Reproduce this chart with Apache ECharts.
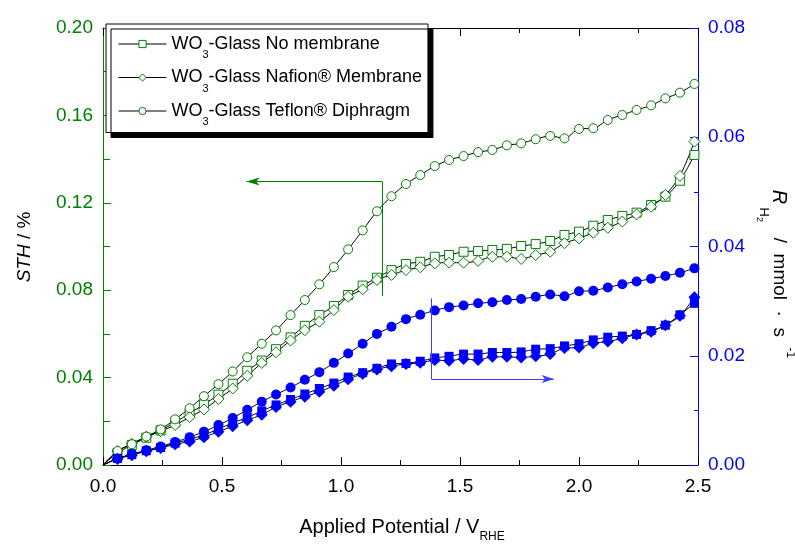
<!DOCTYPE html>
<html><head><meta charset="utf-8">
<script src="https://cdn.jsdelivr.net/npm/echarts@6/dist/echarts.min.js"></script>
<style>html,body{margin:0;padding:0;background:#fff}#c{width:795px;height:548px}</style>
</head><body><div id="c"></div>
<script>
// Applied potential / V_RHE
const potential = [0, 0.061, 0.121, 0.182, 0.242, 0.303, 0.364, 0.424, 0.485, 0.545, 0.606, 0.667, 0.727, 0.788, 0.848, 0.909, 0.970, 1.030, 1.091, 1.151, 1.212, 1.273, 1.333, 1.394, 1.454, 1.515, 1.576, 1.636, 1.697, 1.757, 1.818, 1.879, 1.939, 2.000, 2.060, 2.121, 2.182, 2.242, 2.303, 2.363, 2.424, 2.485];
// STH / % (left axis)
const sthNoMembrane = [0, 0.0055, 0.0092, 0.0125, 0.0158, 0.0195, 0.0237, 0.0277, 0.0322, 0.0372, 0.0431, 0.0478, 0.0530, 0.0584, 0.0637, 0.0686, 0.0728, 0.0778, 0.0821, 0.0857, 0.0892, 0.0920, 0.0930, 0.0953, 0.0961, 0.0976, 0.0979, 0.0984, 0.0989, 0.1002, 0.1011, 0.1025, 0.1053, 0.1068, 0.1095, 0.1121, 0.1140, 0.1155, 0.1190, 0.1228, 0.1301, 0.1419];
const sthNafion = [0, 0.0064, 0.0097, 0.0130, 0.0155, 0.0183, 0.0219, 0.0254, 0.0302, 0.0350, 0.0408, 0.0467, 0.0516, 0.0570, 0.0617, 0.0656, 0.0709, 0.0770, 0.0804, 0.0847, 0.0870, 0.0892, 0.0905, 0.0923, 0.0926, 0.0926, 0.0934, 0.0953, 0.0953, 0.0943, 0.0961, 0.0976, 0.1015, 0.1037, 0.1063, 0.1086, 0.1114, 0.1147, 0.1182, 0.1236, 0.1323, 0.1480];
const sthTeflon = [0, 0.0064, 0.0095, 0.0130, 0.0163, 0.0209, 0.0260, 0.0315, 0.0370, 0.0428, 0.0493, 0.0555, 0.0616, 0.0686, 0.0755, 0.0827, 0.0906, 0.0987, 0.1074, 0.1161, 0.1230, 0.1286, 0.1327, 0.1368, 0.1396, 0.1414, 0.1432, 0.1442, 0.1463, 0.1472, 0.1491, 0.1506, 0.1495, 0.1538, 0.1541, 0.1579, 0.1602, 0.1625, 0.1646, 0.1678, 0.1704, 0.1744];
// R_H2 / mmol s^-1 (right axis)
const rNoMembrane = [0, 0.0012, 0.0019, 0.0026, 0.0032, 0.0040, 0.0047, 0.0055, 0.0066, 0.0077, 0.0087, 0.0099, 0.0110, 0.0120, 0.0130, 0.0140, 0.0150, 0.0161, 0.0169, 0.0177, 0.0185, 0.0186, 0.0190, 0.0196, 0.0199, 0.0203, 0.0203, 0.0206, 0.0206, 0.0207, 0.0212, 0.0213, 0.0218, 0.0222, 0.0229, 0.0234, 0.0236, 0.0239, 0.0246, 0.0256, 0.0275, 0.0296];
const rNafion = [0, 0.0011, 0.0018, 0.0025, 0.0031, 0.0038, 0.0043, 0.0051, 0.0061, 0.0071, 0.0082, 0.0092, 0.0106, 0.0116, 0.0125, 0.0134, 0.0145, 0.0157, 0.0167, 0.0175, 0.0181, 0.0185, 0.0187, 0.0192, 0.0191, 0.0194, 0.0192, 0.0198, 0.0198, 0.0197, 0.0199, 0.0203, 0.0214, 0.0215, 0.0223, 0.0226, 0.0232, 0.0239, 0.0244, 0.0256, 0.0273, 0.0307];
const rTeflon = [0, 0.0012, 0.0020, 0.0027, 0.0034, 0.0042, 0.0051, 0.0061, 0.0073, 0.0086, 0.0101, 0.0116, 0.0129, 0.0142, 0.0156, 0.0170, 0.0187, 0.0204, 0.0222, 0.0240, 0.0253, 0.0267, 0.0275, 0.0283, 0.0289, 0.0292, 0.0296, 0.0298, 0.0302, 0.0304, 0.0308, 0.0312, 0.0309, 0.0318, 0.0319, 0.0325, 0.0331, 0.0336, 0.0341, 0.0346, 0.0352, 0.0360];

const seriesNames = ['WO3-Glass No membrane', 'WO3-Glass Nafion® Membrane', 'WO3-Glass Teflon® Diphragm'];
const legendLabels = ['{n|WO}{s|3}{n|-Glass No membrane}', '{n|WO}{s|3}{n|-Glass Nafion® Membrane}', '{n|WO}{s|3}{n|-Glass Teflon® Diphragm}'];
// annotation arrows (data coordinates)
const greenArrow = { x: 1.173, yTop: 0.1297, yBottom: 0.0773, tipX: 0.603 };
const blueArrow = { x: 1.380, yTop: 0.0305, yBottom: 0.01574, tipX: 1.894 };

const FONT = '"Liberation Sans", Arial, sans-serif';
const GREEN = '#008000', BLUE = '#0000ff';

function pairs(arr) {
  return potential.map((x, i) => i === 0 ? { value: [x, arr[i]], symbol: 'none' } : [x, arr[i]]);
}
function greenSeries(name, arr, symbol, size) {
  return { name, type: 'line', yAxisIndex: 0, data: pairs(arr), symbol, symbolSize: size, smooth: 0.3,
    lineStyle: { color: '#000', width: 1 }, itemStyle: { color: '#fff', borderColor: GREEN, borderWidth: 1 },
    emphasis: { disabled: true }, z: 3 };
}
function blueSeries(name, arr, symbol, size) {
  return { name, type: 'line', yAxisIndex: 1, data: pairs(arr), symbol, symbolSize: size, smooth: 0.3,
    lineStyle: { color: '#000', width: 1 }, itemStyle: { color: BLUE, borderColor: BLUE, borderWidth: 0 },
    emphasis: { disabled: true }, z: 4 };
}

const s1 = greenSeries(seriesNames[0], sthNoMembrane, 'rect', 9);
const s2 = greenSeries(seriesNames[1], sthNafion, 'diamond', 11);
const s3 = greenSeries(seriesNames[2], sthTeflon, 'circle', 9);
s3.markLine = { silent: true, animation: false, symbolSize: [6, 13], label: { show: false },
  lineStyle: { color: GREEN, width: 1, type: 'solid' }, emphasis: { disabled: true },
  data: [
    [{ coord: [greenArrow.x, greenArrow.yTop], symbol: 'none' }, { coord: [greenArrow.x, greenArrow.yBottom], symbol: 'none' }],
    [{ coord: [greenArrow.x, greenArrow.yTop], symbol: 'none' }, { coord: [greenArrow.tipX, greenArrow.yTop], symbol: 'arrow' }]
  ] };
const b1 = blueSeries('R No membrane', rNoMembrane, 'rect', 9);
const b2 = blueSeries('R Nafion', rNafion, 'diamond', 12);
const b3 = blueSeries('R Teflon', rTeflon, 'circle', 10);
b3.markLine = { silent: true, animation: false, symbolSize: [6, 12], label: { show: false },
  lineStyle: { color: '#3c3cff', width: 1, type: 'solid' }, emphasis: { disabled: true },
  data: [
    [{ coord: [blueArrow.x, blueArrow.yTop], symbol: 'none' }, { coord: [blueArrow.x, blueArrow.yBottom], symbol: 'none' }],
    [{ coord: [blueArrow.x, blueArrow.yBottom], symbol: 'none' }, { coord: [blueArrow.tipX, blueArrow.yBottom], symbol: 'arrow' }]
  ] };

function xAxisCfg(pos, showLabel) {
  return { type: 'value', position: pos, min: 0, max: 2.5, interval: 0.5,
    axisLine: { show: true, onZero: false, lineStyle: { color: '#000', width: 1 } },
    axisTick: { show: true, inside: true, length: 8, lineStyle: { color: '#000', width: 1 } },
    minorTick: { show: true, splitNumber: 2, length: 5, lineStyle: { color: '#000', width: 1 } },
    axisLabel: { show: showLabel, formatter: v => v.toFixed(1), color: '#000', fontSize: 19, fontFamily: FONT, margin: 12 },
    splitLine: { show: false }, minorSplitLine: { show: false } };
}
function yAxisCfg(pos, max, step, labelEvery, color, minorLen) {
  return { type: 'value', position: pos, min: 0, max, interval: step * labelEvery,
    axisLine: { show: true, onZero: false, lineStyle: { color, width: 1 } },
    axisTick: { show: true, inside: true, length: 8, lineStyle: { color, width: 1 } },
    minorTick: { show: true, splitNumber: labelEvery, length: minorLen, lineStyle: { color, width: 1 } },
    axisLabel: { formatter: v => v.toFixed(2), color, fontSize: 19, fontFamily: FONT, margin: 10 },
    splitLine: { show: false }, minorSplitLine: { show: false } };
}

const chart = echarts.init(document.getElementById('c'), null, { renderer: 'canvas' });
chart.setOption({
  animation: false,
  backgroundColor: '#fff',
  grid: { left: 103, right: 97, top: 28, bottom: 83, containLabel: false, outerBoundsMode: 'none' },
  xAxis: [xAxisCfg('bottom', true), xAxisCfg('top', false)],
  yAxis: [yAxisCfg('left', 0.2, 0.02, 2, GREEN, 7), yAxisCfg('right', 0.08, 0.01, 2, BLUE, 4)],
  legend: {
    show: true, orient: 'vertical', left: 106, top: 24, data: seriesNames, selectedMode: false,
    itemWidth: 48, itemHeight: 9, itemGap: 8, padding: [11, 6, 5, 12],
    itemStyle: { borderWidth: 1 }, lineStyle: { width: 1, color: '#000' },
    backgroundColor: '#fff', borderColor: '#000', borderWidth: 1, borderRadius: 0,
    shadowColor: '#000', shadowBlur: 0, shadowOffsetX: 5, shadowOffsetY: 5,
    formatter: name => legendLabels[seriesNames.indexOf(name)],
    textStyle: { fontFamily: FONT, fontSize: 18, color: '#000',
      rich: { n: { fontFamily: FONT, fontSize: 18, color: '#000' },
              s: { fontFamily: FONT, fontSize: 11, color: '#000', padding: [22, 0, 0, 0] } } }
  },
  graphic: [
    { type: 'text', x: 25, y: 247, rotation: Math.PI / 2, silent: true,
      style: { text: '{i|STH} / %', fontFamily: FONT, fontSize: 19, fill: '#000', align: 'center', verticalAlign: 'middle',
        rich: { i: { fontFamily: FONT, fontSize: 19, fontStyle: 'italic', fill: '#000' } } } },
    { type: 'text', x: 779, y: 274, rotation: -Math.PI / 2, silent: true,
      style: { text: '{i|R}{g| }{s|H}{ss|2}{n|   /  mmol  ·  s  }{sup|-1}', fontFamily: FONT, fontSize: 19, fill: '#000', align: 'center', verticalAlign: 'middle',
        rich: { i: { fontFamily: FONT, fontSize: 20, fontStyle: 'italic' },
                g: { fontFamily: FONT, fontSize: 12 },
                n: { fontFamily: FONT, fontSize: 19 },
                s: { fontFamily: FONT, fontSize: 13, padding: [30, 0, 0, 0] },
                ss: { fontFamily: FONT, fontSize: 9, padding: [40, 0, 0, 0] },
                sup: { fontFamily: FONT, fontSize: 12, padding: [0, 0, 23, 0] } } } },
    { type: 'text', x: 402, y: 527, silent: true,
      style: { text: '{n|Applied Potential / V}{s|RHE}', fontFamily: FONT, fontSize: 20, fill: '#000', align: 'center', verticalAlign: 'middle',
        rich: { n: { fontFamily: FONT, fontSize: 20 }, s: { fontFamily: FONT, fontSize: 12, padding: [20, 0, 0, 0] } } } }
  ],
  series: [s1, s2, s3, b1, b2, b3]
});
</script>
</body></html>
